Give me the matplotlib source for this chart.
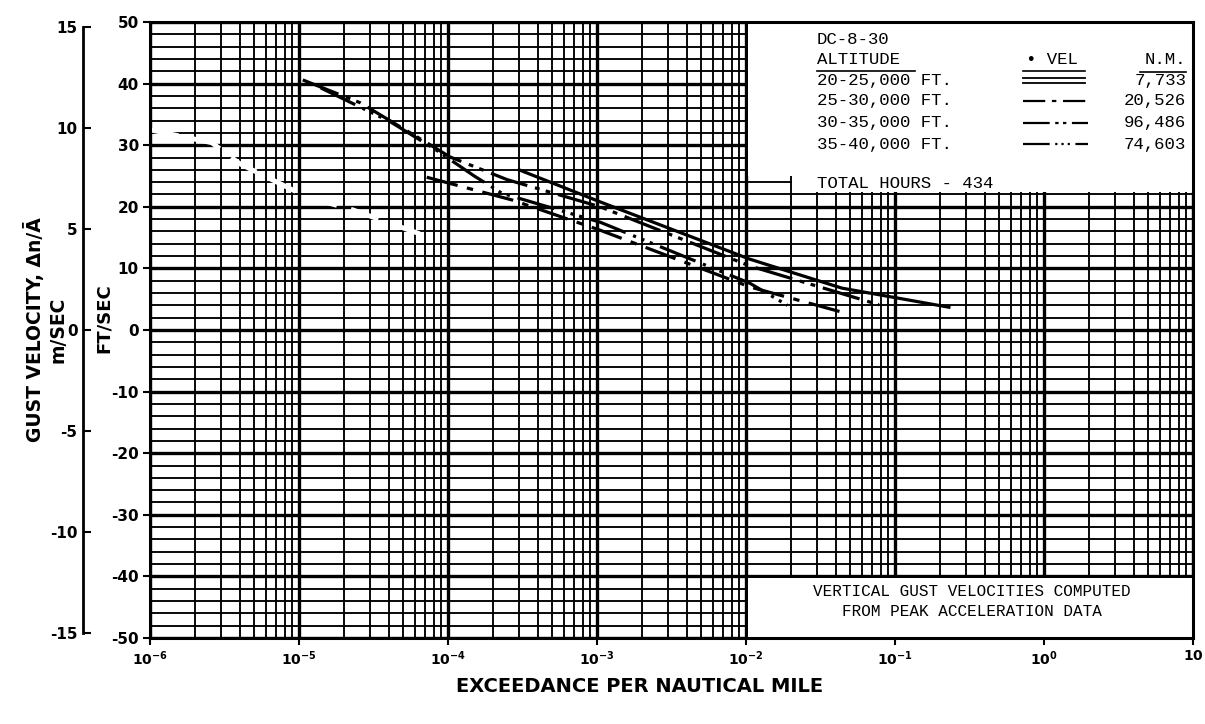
import matplotlib
matplotlib.use("Agg")
import matplotlib.pyplot as plt
from matplotlib.ticker import FixedLocator, MultipleLocator, LogLocator, NullFormatter
from matplotlib.patches import Rectangle
from matplotlib.lines import Line2D

plt.rcParams["axes.unicode_minus"] = False

FT_PER_M = 3.28084

# axis ticks
x_ticks = [1e-6, 1e-5, 1e-4, 1e-3, 1e-2, 1e-1, 1e0, 1e1]
x_tick_labels = [r"$\mathbf{10^{-6}}$", r"$\mathbf{10^{-5}}$", r"$\mathbf{10^{-4}}$",
                 r"$\mathbf{10^{-3}}$", r"$\mathbf{10^{-2}}$", r"$\mathbf{10^{-1}}$",
                 r"$\mathbf{10^{0}}$", r"$\mathbf{10}$"]
y_ticks = [-50, -40, -30, -20, -10, 0, 10, 20, 30, 40, 50]
m_ticks = [-15, -10, -5, 0, 5, 10, 15]

# altitude bands and distance flown in each
bands = ["20-25,000 FT.", "25-30,000 FT.", "30-35,000 FT.", "35-40,000 FT."]
band_nm = ["7,733", "20,526", "96,486", "74,603"]

# exceedance per nautical mile vs. gust velocity (ft/sec)
exc_20_25 = [3.0e-4, 1.05e-3, 1.06e-2, 4.4e-2, 2.3e-1]
vel_20_25 = [26.0, 20.8, 11.5, 6.8, 3.7]

exc_25_30 = [7.2e-5, 2.7e-4, 1.05e-3, 1.06e-2, 4.4e-2]
vel_25_30 = [24.8, 21.1, 16.2, 7.0, 2.9]

exc_30_35 = [1.06e-5, 2.57e-5, 7.2e-5, 1.03e-4, 2.5e-4, 1.05e-3, 1.06e-2, 7.8e-2]
vel_30_35 = [40.6, 36.9, 30.4, 28.1, 24.4, 20.0, 10.4, 4.1]

exc_35_40 = [1.4e-5, 4.1e-5, 8.0e-5, 1.5e-4, 2.3e-4, 1.05e-3, 1.06e-2, 1.9e-2]
vel_35_40 = [39.3, 33.8, 29.5, 25.0, 22.2, 17.5, 7.6, 4.0]

# retouched trace left on the chart paper
trace_exc = [1.0e-6, 2.6e-6, 4.0e-6, 1.13e-5, 2.3e-5, 7.6e-5]
trace_vel = [32.5, 30.4, 27.0, 21.6, 19.5, 15.0]

band_styles = ["-", (0, (10, 3, 2, 3)), (0, (12, 2.5, 1.5, 2, 1.5, 2.5)),
               (0, (12, 2.5, 1, 1.8, 1, 1.8, 1, 2.5))]

W, H = 1205, 724
fig = plt.figure(figsize=(W / 100, H / 100), dpi=100)
L, R, T, B = 150, 1193, 22, 638
ax = fig.add_axes([L / W, 1 - B / H, (R - L) / W, (B - T) / H])

ax.set_xscale("log")
ax.set_xlim(1e-6, 10)
ax.set_ylim(-50, 50)

ax.xaxis.set_major_locator(FixedLocator(x_ticks))
ax.set_xticklabels(x_tick_labels, fontsize=10)
ax.xaxis.set_minor_locator(LogLocator(base=10, subs=range(2, 10), numticks=20))
ax.xaxis.set_minor_formatter(NullFormatter())
ax.yaxis.set_major_locator(FixedLocator(y_ticks))
ax.yaxis.set_minor_locator(MultipleLocator(2))
for lab in ax.get_yticklabels():
    lab.set_fontweight("bold")
    lab.set_fontsize(11)

ax.tick_params(which="major", length=5, width=1.5, direction="out", pad=3)
ax.tick_params(which="minor", length=0)
ax.set_axisbelow(True)
ax.grid(which="major", color="black", lw=2.4)
ax.grid(which="minor", color="black", lw=1.35)
for s in ax.spines.values():
    s.set_linewidth(2.2)

# blank panels for the key and the note
ax.add_patch(Rectangle((1.03e-2, 25), 10 - 1.03e-2, 25, facecolor="white",
                       edgecolor="none", zorder=1.5))
ax.add_patch(Rectangle((2.05e-2, 22.4), 10 - 2.05e-2, 3, facecolor="white",
                       edgecolor="none", zorder=1.5))
ax.add_patch(Rectangle((1.03e-2, -50), 10 - 1.03e-2, 9.8, facecolor="white",
                       edgecolor="none", zorder=1.5))

ax.plot(trace_exc, trace_vel, color="white", lw=3.5, ls=(0, (6, 3)), zorder=1.2)

series = [(exc_20_25, vel_20_25), (exc_25_30, vel_25_30),
          (exc_30_35, vel_30_35), (exc_35_40, vel_35_40)]
for (xs, ys), st in zip(series, band_styles):
    ax.plot(xs, ys, color="black", lw=2.3, ls=st, zorder=3)

# key text
mono = "Liberation Mono"
fs = 12.5


def px(xp, yp):
    return (xp / W, 1 - yp / H)


fig.text(*px(817, 40), "DC-8-30", family=mono, fontsize=fs, va="center", ha="left")
fig.text(*px(817, 60), "ALTITUDE", family=mono, fontsize=fs, va="center", ha="left")
fig.text(*px(1052, 60), "• VEL", family=mono, fontsize=fs, va="center", ha="center")
fig.text(*px(1186, 60), "N.M.", family=mono, fontsize=fs, va="center", ha="right")
fig.add_artist(Line2D([817 / W, 915 / W], [1 - 71 / H] * 2, color="black", lw=1.2))
fig.add_artist(Line2D([1023 / W, 1085 / W], [1 - 71 / H] * 2, color="black", lw=1.2))
fig.add_artist(Line2D([1140 / W, 1186 / W], [1 - 72 / H] * 2, color="black", lw=1.2))

row_y = [80, 101, 123, 144]
for i, (name, nm, st) in enumerate(zip(bands, band_nm, band_styles)):
    y = row_y[i]
    fig.text(*px(817, y), name, family=mono, fontsize=fs, va="center", ha="left")
    fig.text(*px(1186, y), nm, family=mono, fontsize=fs, va="center", ha="right")
    if i == 0:
        for dy in (-2.5, 2.5):
            fig.add_artist(Line2D([1023 / W, 1085 / W], [1 - (y + dy) / H] * 2,
                                  color="black", lw=1.3))
    else:
        fig.add_artist(Line2D([1023 / W, 1088 / W], [1 - y / H] * 2,
                              color="black", lw=1.6, ls=st))

fig.text(*px(817, 184), "TOTAL HOURS - 434", family=mono, fontsize=fs,
         va="center", ha="left")

fig.text(*px(972, 591), "VERTICAL GUST VELOCITIES COMPUTED", family=mono,
         fontsize=11.5, va="center", ha="center")
fig.text(*px(972, 611), "FROM PEAK ACCELERATION DATA", family=mono,
         fontsize=11.5, va="center", ha="center")

# metric scale on the far left
sec = ax.secondary_yaxis((83 - L) / (R - L),
                         functions=(lambda v: v / FT_PER_M, lambda v: v * FT_PER_M))
sec.set_yticks(m_ticks)
sec.spines["left"].set_bounds(-15, 15)
sec.spines["left"].set_linewidth(2.0)
sec.tick_params(direction="in", length=6, width=1.5, pad=4)
for lab in sec.get_yticklabels():
    lab.set_fontweight("bold")
    lab.set_fontsize(11)

fig.text(*px(104, 318), "FT/SEC", rotation=90, fontsize=13, fontweight="bold",
         va="center", ha="center")
fig.text(*px(35, 330), "GUST VELOCITY, Δn/Ā", rotation=90, fontsize=13.5,
         fontweight="bold", va="center", ha="center")
fig.text(*px(58, 330), "m/SEC", rotation=90, fontsize=13.5, fontweight="bold",
         va="center", ha="center")
fig.text(*px(640, 686), "EXCEEDANCE PER NAUTICAL MILE", fontsize=14,
         fontweight="bold", va="center", ha="center")

fig.savefig("out.png", dpi=100, facecolor="white")
